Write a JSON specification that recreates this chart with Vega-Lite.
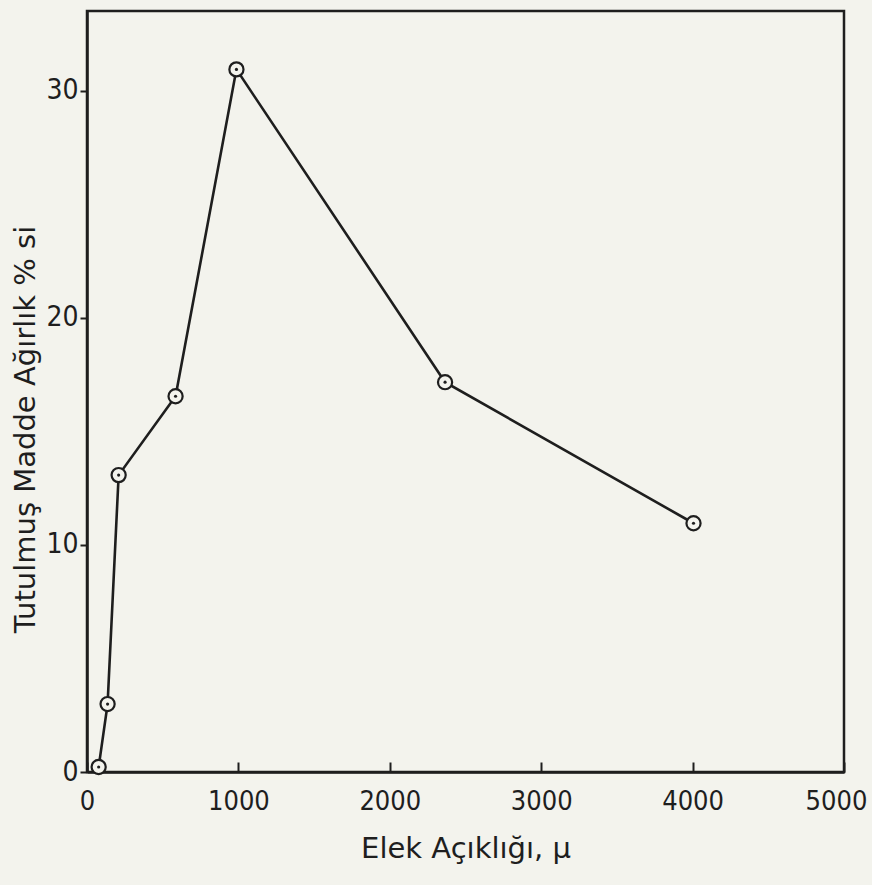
{
  "$schema": "https://vega.github.io/schema/vega-lite/v6.json",
  "autosize": {"type": "none"},
  "width": 757,
  "height": 761,
  "padding": {"left": 87, "top": 11, "right": 28, "bottom": 113},
  "background": "#f3f3ed",
  "config": {
    "view": {"stroke": "#1e1e1e", "strokeWidth": 2.5},
    "axis": {
      "labelFont": "DejaVu Sans Condensed",
      "titleFont": "DejaVu Sans",
      "labelColor": "#1e1e1e",
      "titleColor": "#1e1e1e",
      "domainColor": "#1e1e1e",
      "tickColor": "#1e1e1e",
      "domainWidth": 2.5,
      "tickWidth": 2,
      "grid": false,
      "titleFontWeight": "normal"
    }
  },
  "data": {
    "values": [
      {"aciklik": 77, "agirlik": 0.22},
      {"aciklik": 136, "agirlik": 2.99},
      {"aciklik": 209, "agirlik": 13.07},
      {"aciklik": 585, "agirlik": 16.54},
      {"aciklik": 987, "agirlik": 30.93},
      {"aciklik": 2365, "agirlik": 17.16},
      {"aciklik": 4006, "agirlik": 10.95}
    ]
  },
  "encoding": {
    "x": {
      "field": "aciklik",
      "type": "quantitative",
      "scale": {"domain": [0, 5000], "nice": false},
      "axis": {
        "values": [0, 1000, 2000, 3000, 4000, 5000],
        "format": "d",
        "title": "Elek Açıklığı, μ",
        "labelFontSize": 27,
        "titleFontSize": 29,
        "tickSize": -10,
        "labelPadding": 26,
        "titlePadding": 20,
        "labelFlush": false,
        "labelOffset": {"condition": {"test": "datum.value == 5000", "value": -8}, "value": 0}
      }
    },
    "y": {
      "field": "agirlik",
      "type": "quantitative",
      "scale": {"domain": [0, 33.5], "nice": false},
      "axis": {
        "values": [0, 10, 20, 30],
        "title": "Tutulmuş Madde Ağırlık % si",
        "labelFontSize": 28,
        "titleFontSize": 29,
        "tickSize": 7,
        "labelPadding": 2,
        "titlePadding": 5,
        "titleY": 418,
        "labelFlush": false
      }
    }
  },
  "layer": [
    {"mark": {"type": "line", "color": "#1e1e1e", "strokeWidth": 2.6}},
    {"mark": {"type": "point", "shape": "circle", "size": 200, "filled": true, "fill": "#f3f3ed", "stroke": "#1e1e1e", "strokeWidth": 2.2, "opacity": 1}},
    {"mark": {"type": "point", "shape": "circle", "size": 10, "filled": true, "color": "#1e1e1e", "opacity": 1}}
  ]
}
